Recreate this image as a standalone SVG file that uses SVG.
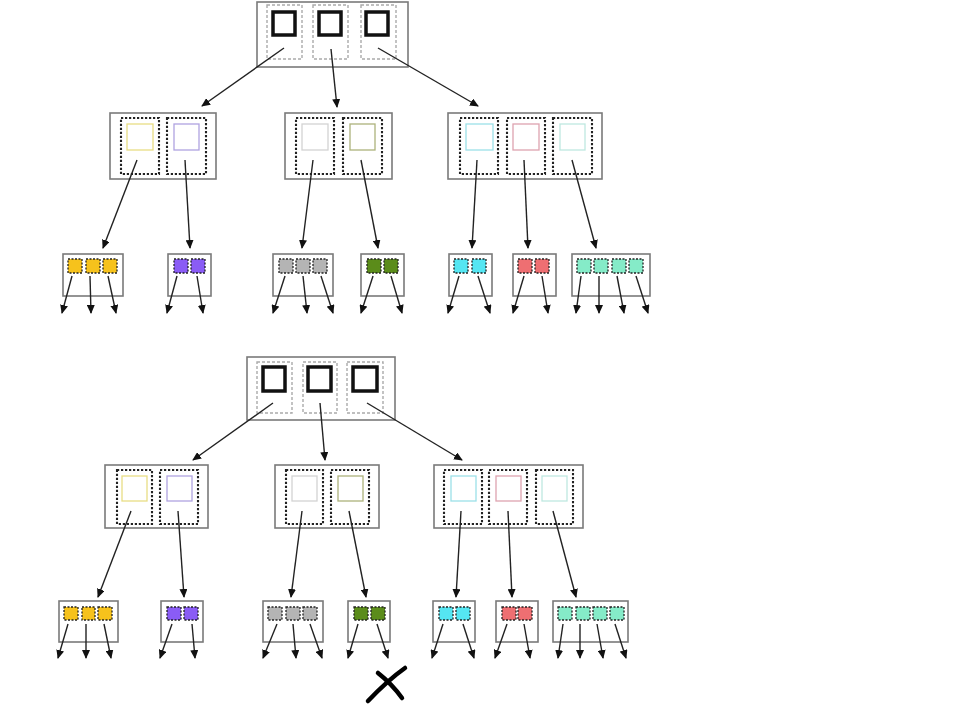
<svg xmlns="http://www.w3.org/2000/svg" width="979" height="721" viewBox="0 0 979 721">
<style>
.box{fill:#fff;stroke:#7a7a7a;stroke-width:1.6}
.rslot{fill:none;stroke:#aaa;stroke-width:1.4;stroke-dasharray:3 2}
.key{fill:#fff;stroke:#111;stroke-width:3.5}
.mslot{fill:none;stroke:#222;stroke-width:2.1;stroke-dasharray:2.2 1.8}
.ck{fill:#fff;stroke-width:1.3}
.lf{stroke:#222;stroke-width:1.3;stroke-dasharray:2 1.5}
.edge{stroke:#222;stroke-width:1.4;fill:none;marker-end:url(#ah)}
.y{stroke:#e8dd85}.v{stroke:#b0a3e0}.g{stroke:#d3d3d3}.o{stroke:#adb27c}.c{stroke:#9ce0e8}.p{stroke:#dea3b0}.m{stroke:#bfe8e0}
.Y{fill:#f6c21c}.V{fill:#8a5cf5}.G{fill:#b4b4b4}.O{fill:#5b8c1a}.C{fill:#55e6f2}.R{fill:#ee6f72}.M{fill:#85ebc8}
</style>
<defs>
<marker id="ah" markerUnits="userSpaceOnUse" markerWidth="9" markerHeight="8" refX="8" refY="4" orient="auto">
<path d="M0,0 L9,4 L0,8 z" fill="#111"/>
</marker>
</defs>
<rect width="979" height="721" fill="#fff"/>

<!-- ===== TOP TREE ===== -->
<g id="t-root">
<rect class="box" x="257" y="2" width="151" height="65"/>
<rect class="rslot" x="267" y="5" width="35" height="54"/>
<rect class="rslot" x="313" y="5" width="35" height="54"/>
<rect class="rslot" x="361" y="5" width="35" height="54"/>
<rect class="key" x="273" y="12" width="22" height="23"/>
<rect class="key" x="319" y="12" width="22" height="23"/>
<rect class="key" x="366" y="12" width="22" height="23"/>
</g>
<g id="t-mA">
<rect class="box" x="110" y="113" width="106" height="66"/>
<rect class="mslot" x="121" y="118" width="38" height="56"/>
<rect class="mslot" x="167" y="118" width="39" height="56"/>
<rect class="ck y" x="127" y="124" width="26" height="26"/>
<rect class="ck v" x="174" y="124" width="25" height="26"/>
</g>
<g id="t-mB">
<rect class="box" x="285" y="113" width="107" height="66"/>
<rect class="mslot" x="296" y="118" width="38" height="56"/>
<rect class="mslot" x="343" y="118" width="39" height="56"/>
<rect class="ck g" x="302" y="124" width="26" height="26"/>
<rect class="ck o" x="350" y="124" width="25" height="26"/>
</g>
<g id="t-mC">
<rect class="box" x="448" y="113" width="154" height="66"/>
<rect class="mslot" x="460" y="118" width="38" height="56"/>
<rect class="mslot" x="507" y="118" width="38" height="56"/>
<rect class="mslot" x="553" y="118" width="39" height="56"/>
<rect class="ck c" x="466" y="124" width="27" height="26"/>
<rect class="ck p" x="513" y="124" width="26" height="26"/>
<rect class="ck m" x="560" y="124" width="25" height="26"/>
</g>
<g id="t-l1">
<rect class="box" x="63" y="254" width="60" height="42"/>
<rect class="lf Y" x="68" y="259" width="14" height="14"/>
<rect class="lf Y" x="86" y="259" width="14" height="14"/>
<rect class="lf Y" x="103" y="259" width="14" height="14"/>
</g>
<g id="t-l2">
<rect class="box" x="168" y="254" width="43" height="42"/>
<rect class="lf V" x="174" y="259" width="14" height="14"/>
<rect class="lf V" x="191" y="259" width="14" height="14"/>
</g>
<g id="t-l3">
<rect class="box" x="273" y="254" width="60" height="42"/>
<rect class="lf G" x="279" y="259" width="14" height="14"/>
<rect class="lf G" x="296" y="259" width="14" height="14"/>
<rect class="lf G" x="313" y="259" width="14" height="14"/>
</g>
<g id="t-l4">
<rect class="box" x="361" y="254" width="43" height="42"/>
<rect class="lf O" x="367" y="259" width="14" height="14"/>
<rect class="lf O" x="384" y="259" width="14" height="14"/>
</g>
<g id="t-l5">
<rect class="box" x="449" y="254" width="43" height="42"/>
<rect class="lf C" x="454" y="259" width="14" height="14"/>
<rect class="lf C" x="472" y="259" width="14" height="14"/>
</g>
<g id="t-l6">
<rect class="box" x="513" y="254" width="43" height="42"/>
<rect class="lf R" x="518" y="259" width="14" height="14"/>
<rect class="lf R" x="535" y="259" width="14" height="14"/>
</g>
<g id="t-l7">
<rect class="box" x="572" y="254" width="78" height="42"/>
<rect class="lf M" x="577" y="259" width="14" height="14"/>
<rect class="lf M" x="594" y="259" width="14" height="14"/>
<rect class="lf M" x="612" y="259" width="14" height="14"/>
<rect class="lf M" x="629" y="259" width="14" height="14"/>
</g>

<!-- ===== BOTTOM TREE ===== -->
<g id="b-root">
<rect class="box" x="247" y="357" width="148" height="63"/>
<rect class="rslot" x="257" y="362" width="35" height="51"/>
<rect class="rslot" x="303" y="362" width="34" height="51"/>
<rect class="rslot" x="347" y="362" width="36" height="51"/>
<rect class="key" x="263" y="367" width="22" height="24"/>
<rect class="key" x="308" y="367" width="23" height="24"/>
<rect class="key" x="353" y="367" width="24" height="24"/>
</g>
<g id="b-mA">
<rect class="box" x="105" y="465" width="103" height="63"/>
<rect class="mslot" x="117" y="470" width="35" height="54"/>
<rect class="mslot" x="160" y="470" width="38" height="54"/>
<rect class="ck y" x="122" y="476" width="25" height="25"/>
<rect class="ck v" x="167" y="476" width="25" height="25"/>
</g>
<g id="b-mB">
<rect class="box" x="275" y="465" width="104" height="63"/>
<rect class="mslot" x="286" y="470" width="37" height="54"/>
<rect class="mslot" x="331" y="470" width="38" height="54"/>
<rect class="ck g" x="292" y="476" width="25" height="25"/>
<rect class="ck o" x="338" y="476" width="25" height="25"/>
</g>
<g id="b-mC">
<rect class="box" x="434" y="465" width="149" height="63"/>
<rect class="mslot" x="444" y="470" width="38" height="54"/>
<rect class="mslot" x="489" y="470" width="38" height="54"/>
<rect class="mslot" x="536" y="470" width="37" height="54"/>
<rect class="ck c" x="451" y="476" width="25" height="25"/>
<rect class="ck p" x="496" y="476" width="25" height="25"/>
<rect class="ck m" x="542" y="476" width="25" height="25"/>
</g>
<g id="b-l1">
<rect class="box" x="59" y="601" width="59" height="41"/>
<rect class="lf Y" x="64" y="607" width="14" height="13"/>
<rect class="lf Y" x="82" y="607" width="13" height="13"/>
<rect class="lf Y" x="98" y="607" width="14" height="13"/>
</g>
<g id="b-l2">
<rect class="box" x="161" y="601" width="42" height="41"/>
<rect class="lf V" x="167" y="607" width="14" height="13"/>
<rect class="lf V" x="184" y="607" width="14" height="13"/>
</g>
<g id="b-l3">
<rect class="box" x="263" y="601" width="60" height="41"/>
<rect class="lf G" x="268" y="607" width="14" height="13"/>
<rect class="lf G" x="286" y="607" width="14" height="13"/>
<rect class="lf G" x="303" y="607" width="14" height="13"/>
</g>
<g id="b-l4">
<rect class="box" x="348" y="601" width="42" height="41"/>
<rect class="lf O" x="354" y="607" width="14" height="13"/>
<rect class="lf O" x="371" y="607" width="14" height="13"/>
</g>
<g id="b-l5">
<rect class="box" x="433" y="601" width="42" height="41"/>
<rect class="lf C" x="439" y="607" width="14" height="13"/>
<rect class="lf C" x="456" y="607" width="14" height="13"/>
</g>
<g id="b-l6">
<rect class="box" x="496" y="601" width="42" height="41"/>
<rect class="lf R" x="502" y="607" width="14" height="13"/>
<rect class="lf R" x="518" y="607" width="14" height="13"/>
</g>
<g id="b-l7">
<rect class="box" x="553" y="601" width="75" height="41"/>
<rect class="lf M" x="558" y="607" width="14" height="13"/>
<rect class="lf M" x="576" y="607" width="14" height="13"/>
<rect class="lf M" x="593" y="607" width="14" height="13"/>
<rect class="lf M" x="610" y="607" width="14" height="13"/>
</g>

<!-- ===== CONNECTORS ===== -->
<g id="connectors">
<line class="edge" x1="284" y1="48" x2="202" y2="106"/>
<line class="edge" x1="331" y1="49" x2="337" y2="107"/>
<line class="edge" x1="378" y1="48" x2="478" y2="106"/>

<line class="edge" x1="137" y1="160" x2="103" y2="248"/>
<line class="edge" x1="185" y1="160" x2="190" y2="248"/>
<line class="edge" x1="313" y1="160" x2="302" y2="248"/>
<line class="edge" x1="361" y1="160" x2="378" y2="248"/>
<line class="edge" x1="477" y1="160" x2="472" y2="248"/>
<line class="edge" x1="524" y1="160" x2="528" y2="248"/>
<line class="edge" x1="572" y1="160" x2="596" y2="248"/>

<line class="edge" x1="72" y1="276" x2="62" y2="313"/>
<line class="edge" x1="90" y1="276" x2="91" y2="313"/>
<line class="edge" x1="108" y1="276" x2="116" y2="313"/>
<line class="edge" x1="177" y1="276" x2="167" y2="313"/>
<line class="edge" x1="197" y1="276" x2="203" y2="313"/>
<line class="edge" x1="285" y1="276" x2="273" y2="313"/>
<line class="edge" x1="303" y1="276" x2="307" y2="313"/>
<line class="edge" x1="321" y1="276" x2="333" y2="313"/>
<line class="edge" x1="373" y1="276" x2="361" y2="313"/>
<line class="edge" x1="391" y1="276" x2="402" y2="313"/>
<line class="edge" x1="459" y1="276" x2="448" y2="313"/>
<line class="edge" x1="478" y1="276" x2="490" y2="313"/>
<line class="edge" x1="524" y1="276" x2="513" y2="313"/>
<line class="edge" x1="542" y1="276" x2="548" y2="313"/>
<line class="edge" x1="581" y1="276" x2="576" y2="313"/>
<line class="edge" x1="599" y1="276" x2="599" y2="313"/>
<line class="edge" x1="617" y1="276" x2="624" y2="313"/>
<line class="edge" x1="636" y1="276" x2="648" y2="313"/>

<line class="edge" x1="273" y1="403" x2="193" y2="460"/>
<line class="edge" x1="320" y1="403" x2="325" y2="460"/>
<line class="edge" x1="367" y1="403" x2="462" y2="460"/>

<line class="edge" x1="131" y1="511" x2="98" y2="597"/>
<line class="edge" x1="178" y1="511" x2="184" y2="597"/>
<line class="edge" x1="302" y1="511" x2="291" y2="597"/>
<line class="edge" x1="349" y1="511" x2="366" y2="597"/>
<line class="edge" x1="461" y1="511" x2="456" y2="597"/>
<line class="edge" x1="508" y1="511" x2="512" y2="597"/>
<line class="edge" x1="553" y1="511" x2="576" y2="597"/>

<line class="edge" x1="68" y1="624" x2="58" y2="658"/>
<line class="edge" x1="86" y1="624" x2="86" y2="658"/>
<line class="edge" x1="104" y1="624" x2="111" y2="658"/>
<line class="edge" x1="172" y1="624" x2="160" y2="658"/>
<line class="edge" x1="192" y1="624" x2="195" y2="658"/>
<line class="edge" x1="277" y1="624" x2="263" y2="658"/>
<line class="edge" x1="293" y1="624" x2="296" y2="658"/>
<line class="edge" x1="310" y1="624" x2="322" y2="658"/>
<line class="edge" x1="358" y1="624" x2="348" y2="658"/>
<line class="edge" x1="377" y1="624" x2="388" y2="658"/>
<line class="edge" x1="443" y1="624" x2="432" y2="658"/>
<line class="edge" x1="463" y1="624" x2="474" y2="658"/>
<line class="edge" x1="507" y1="624" x2="495" y2="658"/>
<line class="edge" x1="524" y1="624" x2="530" y2="658"/>
<line class="edge" x1="563" y1="624" x2="558" y2="658"/>
<line class="edge" x1="580" y1="624" x2="580" y2="658"/>
<line class="edge" x1="597" y1="624" x2="603" y2="658"/>
<line class="edge" x1="615" y1="624" x2="626" y2="658"/>
</g>

<!-- X mark -->
<g id="x-mark" fill="none" stroke="#000" stroke-width="4.5" stroke-linecap="round">
<path d="M368,701 Q388,680 405,668"/>
<path d="M378,673 Q392,684 402,698"/>
</g>
</svg>
